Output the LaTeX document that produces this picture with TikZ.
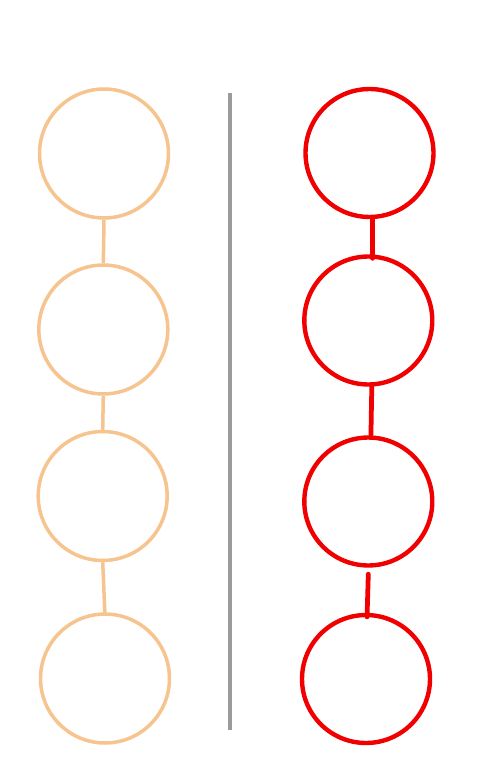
\documentclass[tikz,border=0pt]{standalone}
\usepackage{xcolor}
\usetikzlibrary{positioning}

\definecolor{tanline}{RGB}{246,196,142}
\definecolor{redline}{RGB}{240,0,0}
\definecolor{divider}{RGB}{155,155,155}

\begin{document}
\begin{tikzpicture}[
    x=0.02cm, y=-0.02cm,
    tanball/.style={circle, draw=tanline, line width=2pt, minimum size=2.58cm, inner sep=0pt},
    redball/.style={circle, draw=redline, line width=2.5pt, minimum size=2.56cm, inner sep=0pt},
    tanlink/.style={draw=tanline, line width=2pt},
    redlink/.style={draw=redline, line width=2.7pt, line cap=round}
]
\useasboundingbox (0,0) rectangle (492,777);

% ---- Left chain ----
\node[tanball] (l1) at (104,153.5) {};
\node[tanball] (l2) at (103.3,329.5) {};
\node[tanball] (l3) at (102.7,496) {};
\node[tanball] (l4) at (105,678.5) {};

% ---- Right chain ----
\node[redball] (r1) at (369.5,153) {};
\node[redball] (r2) at (368.3,320.5) {};
\node[redball] (r3) at (368.3,501.5) {};
\node[redball] (r4) at (366,679) {};

% ---- Divider ----
\coordinate (top) at (230,93);
\coordinate (bot) at (230,730);
\draw[divider, line width=2.3pt] (top) -- (bot);

% ======== Links ========
\draw[tanlink] (l1.south) -- (l2.north);
\draw[tanlink] (l2.south) -- (l3.north);
\draw[tanlink] (l3.south) -- ([yshift=-2pt]l4.north);

\draw[redlink] ([xshift=1.7pt]r1.south) -- ([xshift=2.4pt,yshift=-2.3pt]r2.north);
\draw[redlink] ([xshift=2pt,yshift=1pt]r2.south) -- ([xshift=1.5pt]r3.north);
\draw[redlink] ([yshift=-3.7pt]r3.south) -- ([xshift=0.6pt,yshift=-2.3pt]r4.north);

\end{tikzpicture}
\end{document}
